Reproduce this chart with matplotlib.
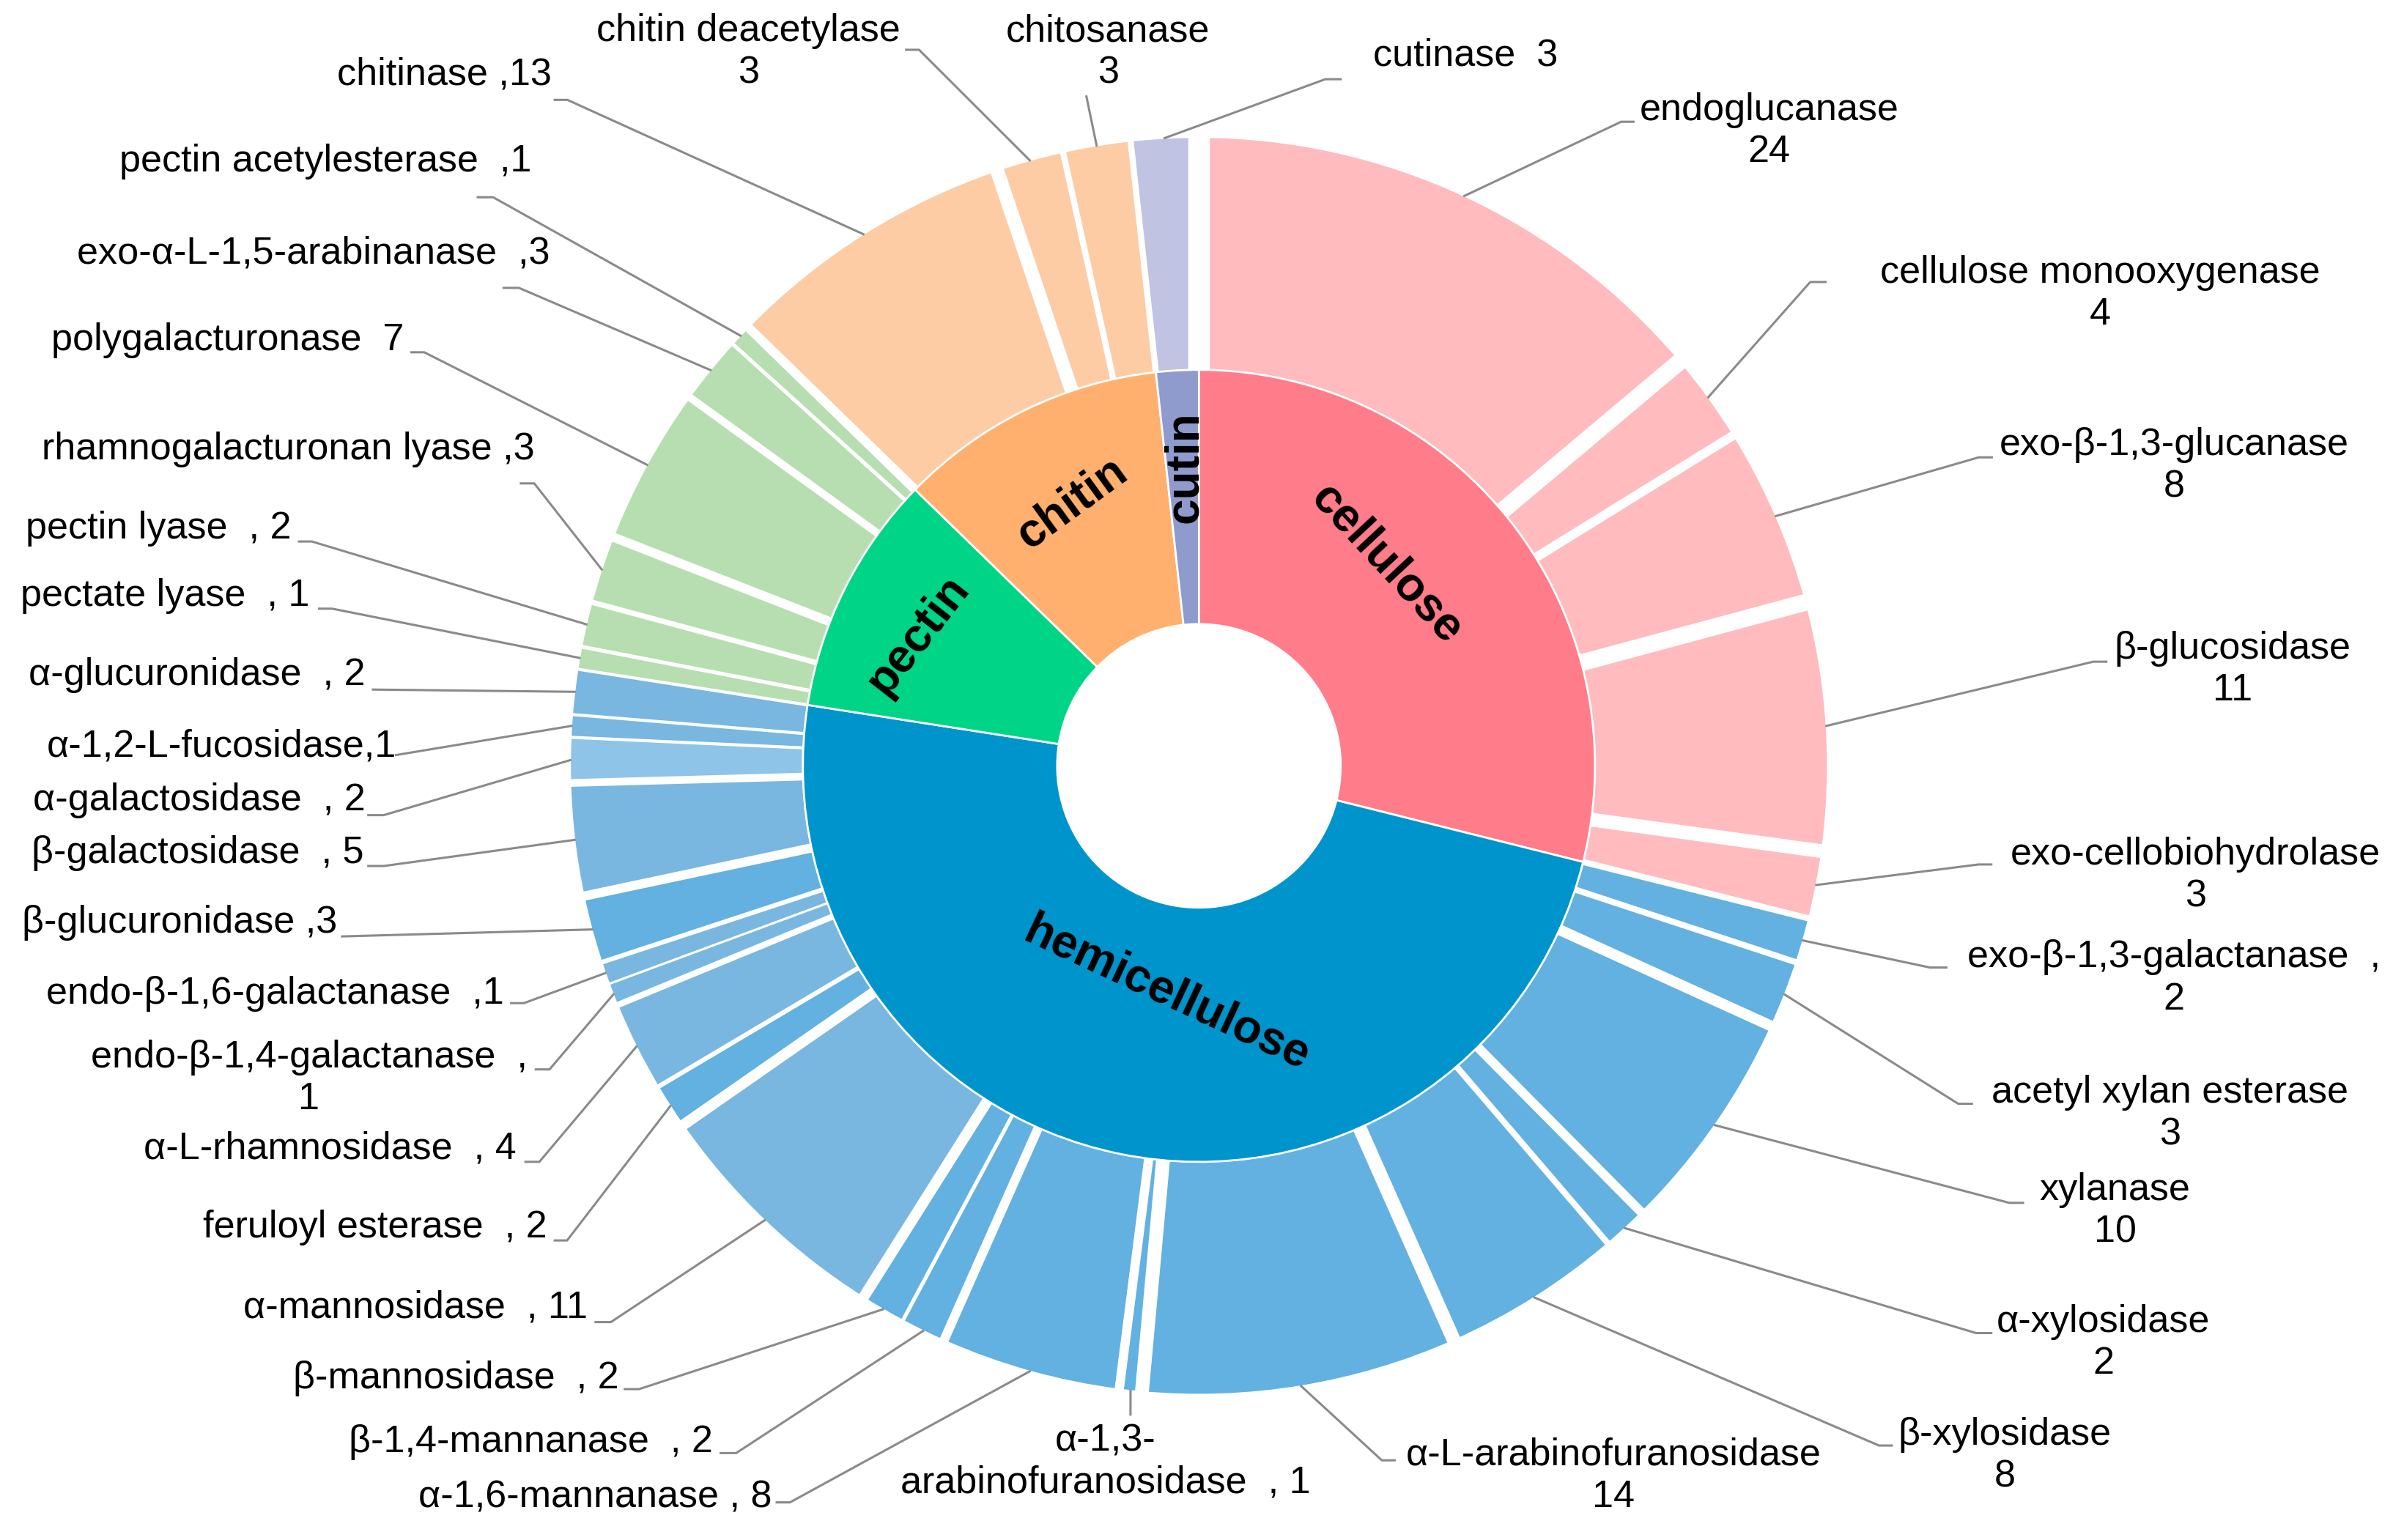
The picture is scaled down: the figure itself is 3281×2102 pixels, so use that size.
import numpy as np
import matplotlib.pyplot as plt

plt.rcParams['font.family'] = ['Liberation Sans', 'DejaVu Sans']

# substrate groups (inner ring) and their enzymes (outer ring), clockwise from 12 o'clock
groups = ['cellulose', 'hemicellulose', 'pectin', 'chitin', 'cutin']

cellulose_enz = ['endoglucanase', 'cellulose monooxygenase', 'exo-β-1,3-glucanase',
                 'β-glucosidase', 'exo-cellobiohydrolase']
cellulose_n = [24, 4, 8, 11, 3]

hemi_enz = ['exo-β-1,3-galactanase', 'acetyl xylan esterase', 'xylanase', 'α-xylosidase',
            'β-xylosidase', 'α-L-arabinofuranosidase', 'α-1,3-\narabinofuranosidase',
            'α-1,6-mannanase', 'β-1,4-mannanase', 'β-mannosidase', 'α-mannosidase',
            'feruloyl esterase', 'α-L-rhamnosidase', 'endo-β-1,4-galactanase',
            'endo-β-1,6-galactanase', 'β-glucuronidase', 'β-galactosidase',
            'α-galactosidase', 'α-1,2-L-fucosidase', 'α-glucuronidase']
hemi_n = [2, 3, 10, 2, 8, 14, 1, 8, 2, 2, 11, 2, 4, 1, 1, 3, 5, 2, 1, 2]

pectin_enz = ['pectate lyase', 'pectin lyase', 'rhamnogalacturonan lyase',
              'polygalacturonase', 'exo-α-L-1,5-arabinanase', 'pectin acetylesterase']
pectin_n = [1, 2, 3, 7, 3, 1]

chitin_enz = ['chitinase', 'chitin deacetylase', 'chitosanase']
chitin_n = [13, 3, 3]

cutin_enz = ['cutinase']
cutin_n = [3]

# separator between name and count, as written in the figure
label_sep = (['\n'] * 5 +
             ['  ,\n', '\n', '\n', '\n', '\n', '\n', '  , ', ' , ', '  , ', '  , ', '  , ',
              '  , ', '  , ', '  ,\n', '  ,', ' ,', '  , ', '  , ', ',', '  , '] +
             ['  , ', '  , ', ' ,', '  ', '  ,', '  ,'] +
             [' ,', '\n', '\n'] +
             ['  '])

# colours
inner_colors = ['#FF7C8A', '#0094CC', '#00D587', '#FFB06F', '#8E9BCC']
hD, hL, hLL = '#62B1E1', '#79B7E1', '#8EC4E7'
outer_colors = (['#FFBBBE'] * 5 +
                [hD, hD, hD, hD, hD, hD, hD, hD, hD, hD, hL, hD, hL, hL, hL, hD, hL, hLL, hL, hL] +
                ['#B7DEB0'] * 6 + ['#FDCCA5'] * 3 + ['#C1C3E2'])

# white gap after each outer wedge (canvas px)
gaps = [11, 6, 11, 9, 4,
        4, 7, 6, 4, 9, 9, 6, 6, 2.5, 7, 7, 3, 4, 1.5, 3, 6, 5, 2, 2, 2,
        2.5, 3.5, 6, 5, 2.5, 6,
        9, 4, 4,
        14]

# label layout in canvas px (y measured downward): text x, text y, ha, leader elbow (xa, xb, y)
label_pos = [
    (1148, 85, 'center', 1052, 1060, 79),
    (1363, 190.5, 'center', 1174.7, 1184.6, 183),
    (1411, 302.5, 'center', 1284, 1292.5, 296.8),
    (1448.7, 434.7, 'center', 1358.4, 1366.8, 429.4),
    (1424.8, 568.4, 'center', 1284, 1292.2, 561),
    (1410.7, 635, 'center', 1252.4, 1263, 627.9),
    (1408, 723, 'center', 1270.7, 1279.6, 716.3),
    (1372.5, 786, 'center', 1303.8, 1312.8, 780.6),
    (1365, 871.5, 'center', 1282.3, 1292.2, 865.1),
    (1301, 945, 'center', 1219.3, 1227.6, 938.1),
    (1047, 958, 'center', 896.7, 905, 947.7),
    (717.5, 948.7, 'center', 733.6, 733.6, 918),
    (501, 972, 'right', 512.6, 504, 975),
    (462.8, 936, 'right', 477.7, 467.7, 943),
    (401.5, 894.5, 'right', 414.7, 405.4, 901.5),
    (381.5, 848.7, 'right', 396.4, 386.5, 858),
    (355, 796.4, 'right', 368, 360, 805),
    (335, 745.6, 'right', 350, 341, 754),
    (200.5, 700, 'center', 356.6, 347.7, 694),
    (326.8, 644.9, 'right', 340, 331.7, 651),
    (219, 599, 'right', 222, 222, 607.7),
    (236, 553.5, 'right', 249, 239, 562),
    (237, 519.6, 'right', 249, 239, 529),
    (257, 484.6, 'right', 257, 257, 490),
    (237, 438, 'right', 242, 242, 447.5),
    (200.7, 387, 'right', 215.6, 207, 395),
    (189, 343, 'right', 202.4, 194, 351.4),
    (346.7, 291.8, 'right', 346.7, 338, 313.7),
    (262, 220.8, 'right', 275.3, 267, 228.6),
    (356.6, 164.5, 'right', 336.7, 326.8, 186.8),
    (345, 105, 'right', 320, 310, 128),
    (358, 48.4, 'right', 368.2, 360, 64.8),
    (485.5, 34, 'center', 596.4, 588, 32.3),
    (719, 34, 'center', 705, 705, 62.6),
    (891, 36, 'left', 860, 870, 51.4),
]

# inner ring label placement: x, y, rotation
group_label_pos = [(900, 366, -47), (757, 645, -25), (596, 412, 52), (695.5, 326.5, 36), (769, 303, 90)]

enz = cellulose_enz + hemi_enz + pectin_enz + chitin_enz + cutin_enz
counts = cellulose_n + hemi_n + pectin_n + chitin_n + cutin_n
totals = [sum(cellulose_n), sum(hemi_n), sum(pectin_n), sum(chitin_n), sum(cutin_n)]

W, H = 1560, 999.4
cx, cy = 778, H - 497
R_out, R_mid, R_hole = 408, 257, 92
px = 2.1032 * 0.72  # canvas px -> points

fig = plt.figure(figsize=(32.81, 21.02), dpi=100)
ax = fig.add_axes([0, 0, 1, 1])

ax.pie(counts, radius=R_out, center=(cx, cy), startangle=90, counterclock=False,
       colors=outer_colors, wedgeprops=dict(width=R_out - R_mid, edgecolor='white', linewidth=1.5))
ax.pie(totals, radius=R_mid, center=(cx, cy), startangle=90, counterclock=False,
       colors=inner_colors, wedgeprops=dict(width=R_mid - R_hole, edgecolor='white',
                                            linewidth=2, zorder=4))

total = sum(counts)
cum = np.cumsum(counts)
# gaps between outer wedges
for c, g in zip(cum, gaps):
    a = np.deg2rad(90 - c / total * 360)
    ax.plot([cx + R_mid * np.cos(a), cx + (R_out + 4) * np.cos(a)],
            [cy + R_mid * np.sin(a), cy + (R_out + 4) * np.sin(a)],
            color='white', lw=g * px, solid_capstyle='butt', zorder=3)

# leader lines and labels
mids = 90 - (cum - np.array(counts) / 2) / total * 360
for name, n, sep, m, (tx, ty, ha, xa, xb, ly) in zip(enz, counts, label_sep, mids, label_pos):
    a = np.deg2rad(m)
    x0, y0 = cx + R_out * np.cos(a), cy + R_out * np.sin(a)
    ax.plot([x0, xa, xb], [y0, H - ly, H - ly], color='#8a8a8a', lw=2.2, zorder=5)
    ax.text(tx, H - ty, name + sep + str(n), ha=ha, va='center', multialignment='center',
            fontsize=37.5, linespacing=1.22, color='black', zorder=6)

for g, (gx, gy, rot) in zip(groups, group_label_pos):
    ax.text(gx, H - gy, g, ha='center', va='center', rotation=rot, rotation_mode='anchor',
            fontsize=46, fontweight='bold', color='black', zorder=6)

ax.set_xlim(0, W)
ax.set_ylim(0, H)
ax.set_aspect('equal')
ax.axis('off')

fig.savefig('out.png', dpi=100)
